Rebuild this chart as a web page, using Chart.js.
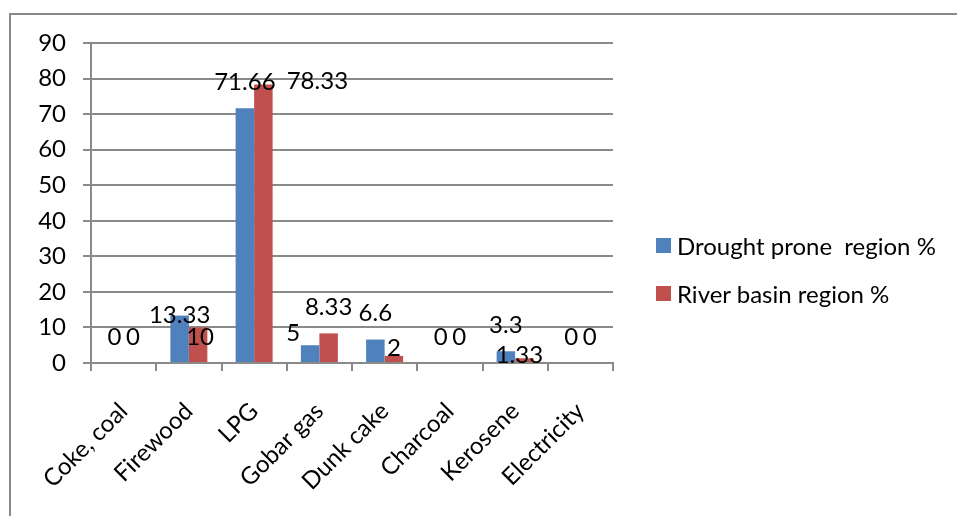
<!DOCTYPE html>
<html>
<head>
<meta charset="utf-8">
<script src="https://cdn.jsdelivr.net/npm/chart.js@4/dist/chart.umd.min.js"></script>
<style>
  html, body { margin: 0; padding: 0; background: #fff; }
  #wrap { position: relative; width: 957px; height: 516px; overflow: hidden; }
  #frame { position: absolute; left: 9px; top: 13px; width: 1000px; height: 600px;
           border-left: 2px solid #8a8a8a; border-top: 2px solid #8a8a8a; }
  canvas { position: absolute; left: 0; top: 0; }
  #legend { position: absolute; left: 656px; top: 221px; font-family: Lato, sans-serif;
            font-size: 24px; color: #000; }
  .item { display: flex; align-items: center; height: 48px; }
  .swatch { width: 15px; height: 15px; margin-right: 6px; }
</style>
</head>
<body>
<div id="wrap">
  <div id="frame"></div>
  <canvas id="c" width="957" height="516"></canvas>
  <div id="legend"></div>
</div>
<script>
// Household cooking fuel use, % of households
const categories = ['Coke, coal', 'Firewood', 'LPG', 'Gobar gas', 'Dunk cake', 'Charcoal', 'Kerosene', 'Electricity'];
const droughtProne = [0, 13.33, 71.66, 5, 6.6, 0, 3.3, 0];
const riverBasin = [0, 10, 78.33, 8.33, 2, 0, 1.33, 0];
const seriesNames = ['Drought prone  region %', 'River basin region %'];
const seriesColors = ['#4F81BD', '#C0504D'];
const yTicks = [0, 10, 20, 30, 40, 50, 60, 70, 80, 90];

// hand-placed value labels: [dx, dy] shift from the usual spot above each bar
const labelShift = [
  [[0, 0], [0, 26], [0, 0], [-17, 14], [0, 0], [0, 0], [0, 0], [0, 0]],
  [[0, 0], [2, 36], [54, 23], [0, 0], [0, 18], [0, 0], [-5, 23], [0, 0]]
];

const FONT = 'Lato, sans-serif';
const FONT_SIZE = 24;
const GRID = '#8a8a8a';

const valueLabels = {
  id: 'valueLabels',
  afterDatasetsDraw(chart) {
    const ctx = chart.ctx;
    ctx.save();
    ctx.font = FONT_SIZE + 'px ' + FONT;
    ctx.fillStyle = '#000';
    ctx.textAlign = 'center';
    ctx.textBaseline = 'middle';
    chart.data.datasets.forEach((ds, di) => {
      chart.getDatasetMeta(di).data.forEach((bar, i) => {
        const [dx, dy] = labelShift[di][i];
        ctx.fillText(String(ds.data[i]), bar.x + dx, bar.y - 26 + dy);
      });
    });
    ctx.restore();
  }
};

new Chart(document.getElementById('c'), {
  type: 'bar',
  data: {
    labels: categories,
    datasets: [
      { label: seriesNames[0], data: droughtProne, backgroundColor: seriesColors[0] },
      { label: seriesNames[1], data: riverBasin, backgroundColor: seriesColors[1] }
    ]
  },
  options: {
    responsive: false,
    animation: false,
    devicePixelRatio: 1,
    layout: { padding: { left: 0, top: 43, right: 344, bottom: 0 } },
    datasets: { bar: { categoryPercentage: 0.567, barPercentage: 1.0 } },
    plugins: { legend: { display: false }, tooltip: { enabled: false } },
    scales: {
      x: {
        afterFit(scale) { scale.height = 153; },
        grid: { offset: true, drawOnChartArea: false, drawTicks: true, tickLength: 8, color: GRID, lineWidth: 2 },
        border: { display: true, color: GRID, width: 2 },
        ticks: { color: '#000', font: { family: FONT, size: FONT_SIZE }, maxRotation: 45, minRotation: 45, padding: 26, autoSkip: false }
      },
      y: {
        min: 0, max: 90,
        afterFit(scale) { scale.width = 91; },
        afterBuildTicks(scale) { scale.ticks = yTicks.map(v => ({ value: v })); },
        grid: { color: GRID, lineWidth: 2, tickLength: 8 },
        border: { display: true, color: GRID, width: 2 },
        ticks: { color: '#000', font: { family: FONT, size: FONT_SIZE }, padding: 17 }
      }
    }
  },
  plugins: [valueLabels]
});

// legend built from the series arrays
const legend = document.getElementById('legend');
seriesNames.forEach((name, i) => {
  const row = document.createElement('div');
  row.className = 'item';
  const sw = document.createElement('div');
  sw.className = 'swatch';
  sw.style.background = seriesColors[i];
  const tx = document.createElement('span');
  tx.textContent = name;
  tx.style.whiteSpace = 'pre';
  row.appendChild(sw);
  row.appendChild(tx);
  legend.appendChild(row);
});
</script>
</body>
</html>
